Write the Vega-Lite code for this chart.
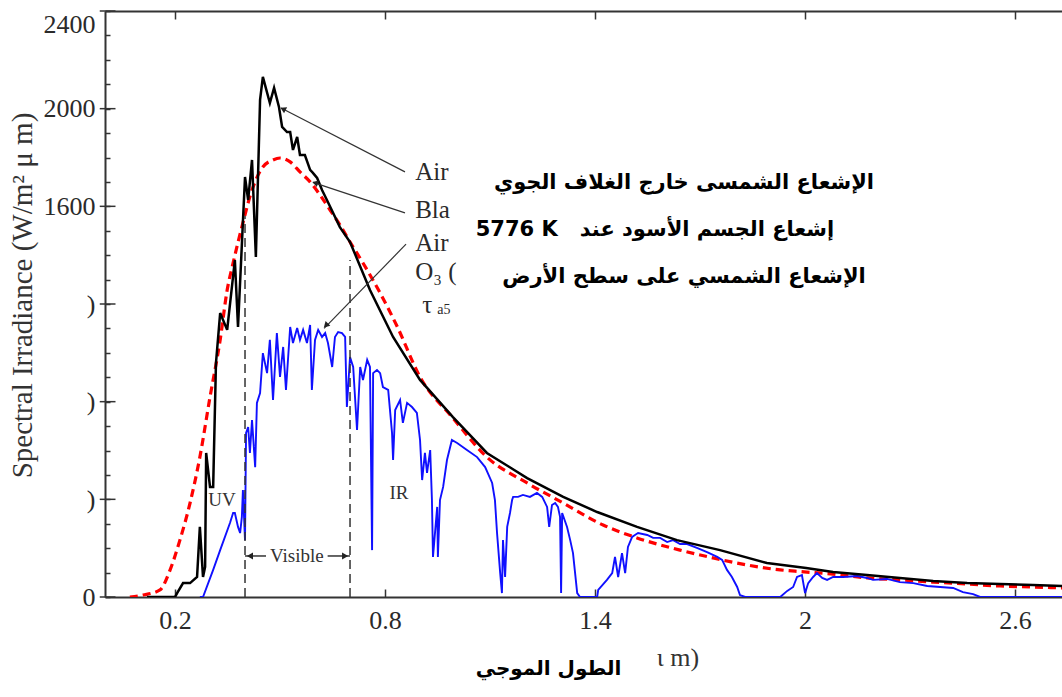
{
  "$schema": "https://vega.github.io/schema/vega-lite/v6.json",
  "width": 957,
  "height": 586,
  "autosize": "none",
  "padding": {"left": 105, "top": 11, "right": 0, "bottom": 100},
  "background": "white",
  "config": {
    "view": {"stroke": null},
    "axis": {
      "domainColor": "#333333", "domainWidth": 2,
      "tickColor": "#333333", "tickWidth": 1.5,
      "labelFont": "Liberation Serif", "labelFontSize": 26, "labelColor": "#2a2a2a",
      "titleFont": "Liberation Serif", "titleColor": "#333333", "titleFontWeight": "normal",
      "grid": false
    }
  },
  "datasets": {
    "bb": [
      {"wl": 0.071, "irr": 0}, {"wl": 0.109, "irr": 8}, {"wl": 0.157, "irr": 29}, {"wl": 0.186, "irr": 111},
      {"wl": 0.214, "irr": 233}, {"wl": 0.243, "irr": 385}, {"wl": 0.271, "irr": 573}, {"wl": 0.3, "irr": 819},
      {"wl": 0.329, "irr": 1053}, {"wl": 0.349, "irr": 1257}, {"wl": 0.366, "irr": 1368}, {"wl": 0.394, "irr": 1532},
      {"wl": 0.42, "irr": 1667}, {"wl": 0.451, "irr": 1761}, {"wl": 0.48, "irr": 1790}, {"wl": 0.5, "irr": 1798},
      {"wl": 0.529, "irr": 1782}, {"wl": 0.557, "irr": 1741}, {"wl": 0.586, "irr": 1700}, {"wl": 0.614, "irr": 1647},
      {"wl": 0.643, "irr": 1585}, {"wl": 0.671, "irr": 1524}, {"wl": 0.7, "irr": 1454}, {"wl": 0.737, "irr": 1368},
      {"wl": 0.786, "irr": 1245}, {"wl": 0.834, "irr": 1110}, {"wl": 0.9, "irr": 901}, {"wl": 0.994, "irr": 733},
      {"wl": 1.091, "irr": 573}, {"wl": 1.206, "irr": 467}, {"wl": 1.309, "irr": 385}, {"wl": 1.423, "irr": 295},
      {"wl": 1.52, "irr": 242}, {"wl": 1.643, "irr": 192}, {"wl": 1.737, "irr": 160}, {"wl": 1.834, "irr": 131},
      {"wl": 1.929, "irr": 111}, {"wl": 1.986, "irr": 104}, {"wl": 2.08, "irr": 94}, {"wl": 2.177, "irr": 78},
      {"wl": 2.271, "irr": 70}, {"wl": 2.366, "irr": 61}, {"wl": 2.463, "irr": 53}, {"wl": 2.557, "irr": 45},
      {"wl": 2.651, "irr": 41}, {"wl": 2.734, "irr": 37}, {"wl": 2.8, "irr": 34}
    ],
    "am0": [
      {"wl": 0.12, "irr": 0}, {"wl": 0.2, "irr": 0}, {"wl": 0.206, "irr": 16}, {"wl": 0.223, "irr": 57},
      {"wl": 0.243, "irr": 57}, {"wl": 0.263, "irr": 82}, {"wl": 0.271, "irr": 287}, {"wl": 0.28, "irr": 82},
      {"wl": 0.286, "irr": 123}, {"wl": 0.289, "irr": 590}, {"wl": 0.3, "irr": 451}, {"wl": 0.309, "irr": 451},
      {"wl": 0.317, "irr": 958}, {"wl": 0.329, "irr": 1163}, {"wl": 0.349, "irr": 1094}, {"wl": 0.371, "irr": 1380},
      {"wl": 0.38, "irr": 1106}, {"wl": 0.4, "irr": 1720}, {"wl": 0.409, "irr": 1626}, {"wl": 0.42, "irr": 1790},
      {"wl": 0.431, "irr": 1393}, {"wl": 0.443, "irr": 2036}, {"wl": 0.451, "irr": 2130}, {"wl": 0.471, "irr": 2023},
      {"wl": 0.483, "irr": 2085}, {"wl": 0.497, "irr": 2007}, {"wl": 0.506, "irr": 1925}, {"wl": 0.52, "irr": 1904},
      {"wl": 0.529, "irr": 1904}, {"wl": 0.537, "irr": 1831}, {"wl": 0.549, "irr": 1884}, {"wl": 0.557, "irr": 1810},
      {"wl": 0.571, "irr": 1810}, {"wl": 0.586, "irr": 1749}, {"wl": 0.594, "irr": 1737}, {"wl": 0.606, "irr": 1716},
      {"wl": 0.62, "irr": 1667}, {"wl": 0.634, "irr": 1626}, {"wl": 0.671, "irr": 1515}, {"wl": 0.7, "irr": 1454},
      {"wl": 0.757, "irr": 1257}, {"wl": 0.823, "irr": 1065}, {"wl": 0.9, "irr": 889}, {"wl": 0.994, "irr": 737},
      {"wl": 1.091, "irr": 590}, {"wl": 1.206, "irr": 487}, {"wl": 1.309, "irr": 410}, {"wl": 1.406, "irr": 348},
      {"wl": 1.52, "irr": 287}, {"wl": 1.634, "irr": 233}, {"wl": 1.757, "irr": 192}, {"wl": 1.891, "irr": 139},
      {"wl": 2.003, "irr": 119}, {"wl": 2.08, "irr": 102}, {"wl": 2.177, "irr": 90}, {"wl": 2.271, "irr": 78},
      {"wl": 2.366, "irr": 66}, {"wl": 2.463, "irr": 57}, {"wl": 2.557, "irr": 53}, {"wl": 2.651, "irr": 49},
      {"wl": 2.734, "irr": 45}, {"wl": 2.8, "irr": 42}
    ],
    "am15": [
      {"wl": 0.271, "irr": 0}, {"wl": 0.28, "irr": 0}, {"wl": 0.309, "irr": 111}, {"wl": 0.329, "irr": 192},
      {"wl": 0.357, "irr": 303}, {"wl": 0.366, "irr": 344}, {"wl": 0.371, "irr": 344}, {"wl": 0.38, "irr": 287},
      {"wl": 0.386, "irr": 262}, {"wl": 0.391, "irr": 328}, {"wl": 0.394, "irr": 438}, {"wl": 0.4, "irr": 233},
      {"wl": 0.403, "irr": 672}, {"wl": 0.409, "irr": 696}, {"wl": 0.414, "irr": 590}, {"wl": 0.42, "irr": 725},
      {"wl": 0.429, "irr": 532}, {"wl": 0.434, "irr": 795}, {"wl": 0.443, "irr": 835}, {"wl": 0.451, "irr": 999},
      {"wl": 0.463, "irr": 917}, {"wl": 0.471, "irr": 1053}, {"wl": 0.48, "irr": 807}, {"wl": 0.491, "irr": 1081},
      {"wl": 0.5, "irr": 901}, {"wl": 0.509, "irr": 1024}, {"wl": 0.517, "irr": 848}, {"wl": 0.529, "irr": 1106},
      {"wl": 0.537, "irr": 1040}, {"wl": 0.549, "irr": 1102}, {"wl": 0.557, "irr": 1053}, {"wl": 0.566, "irr": 1094},
      {"wl": 0.577, "irr": 1040}, {"wl": 0.586, "irr": 1114}, {"wl": 0.591, "irr": 848}, {"wl": 0.6, "irr": 1053},
      {"wl": 0.609, "irr": 1094}, {"wl": 0.62, "irr": 1065}, {"wl": 0.629, "irr": 1081}, {"wl": 0.637, "irr": 1040},
      {"wl": 0.649, "irr": 942}, {"wl": 0.657, "irr": 1065}, {"wl": 0.666, "irr": 1085}, {"wl": 0.677, "irr": 1081},
      {"wl": 0.686, "irr": 1065}, {"wl": 0.691, "irr": 778}, {"wl": 0.7, "irr": 983}, {"wl": 0.709, "irr": 942},
      {"wl": 0.72, "irr": 684}, {"wl": 0.729, "irr": 942}, {"wl": 0.737, "irr": 889}, {"wl": 0.749, "irr": 971},
      {"wl": 0.757, "irr": 942}, {"wl": 0.763, "irr": 192}, {"wl": 0.766, "irr": 917}, {"wl": 0.777, "irr": 930},
      {"wl": 0.786, "irr": 917}, {"wl": 0.794, "irr": 860}, {"wl": 0.809, "irr": 848}, {"wl": 0.82, "irr": 672},
      {"wl": 0.823, "irr": 561}, {"wl": 0.829, "irr": 766}, {"wl": 0.843, "irr": 807}, {"wl": 0.851, "irr": 713},
      {"wl": 0.863, "irr": 795}, {"wl": 0.877, "irr": 778}, {"wl": 0.891, "irr": 754}, {"wl": 0.9, "irr": 643},
      {"wl": 0.906, "irr": 479}, {"wl": 0.914, "irr": 590}, {"wl": 0.92, "irr": 508}, {"wl": 0.929, "irr": 602},
      {"wl": 0.934, "irr": 397}, {"wl": 0.937, "irr": 164}, {"wl": 0.949, "irr": 369}, {"wl": 0.951, "irr": 164},
      {"wl": 0.957, "irr": 397}, {"wl": 0.966, "irr": 451}, {"wl": 0.977, "irr": 561}, {"wl": 0.991, "irr": 643},
      {"wl": 1.006, "irr": 631}, {"wl": 1.034, "irr": 602}, {"wl": 1.063, "irr": 573}, {"wl": 1.086, "irr": 532},
      {"wl": 1.106, "irr": 467}, {"wl": 1.114, "irr": 397}, {"wl": 1.12, "irr": 262}, {"wl": 1.129, "irr": 98},
      {"wl": 1.134, "irr": 16}, {"wl": 1.137, "irr": 233}, {"wl": 1.143, "irr": 82}, {"wl": 1.149, "irr": 287},
      {"wl": 1.157, "irr": 344}, {"wl": 1.163, "irr": 397}, {"wl": 1.166, "irr": 410}, {"wl": 1.18, "irr": 410},
      {"wl": 1.194, "irr": 418}, {"wl": 1.214, "irr": 410}, {"wl": 1.234, "irr": 426}, {"wl": 1.249, "irr": 410},
      {"wl": 1.263, "irr": 369}, {"wl": 1.269, "irr": 287}, {"wl": 1.277, "irr": 377}, {"wl": 1.286, "irr": 385},
      {"wl": 1.294, "irr": 369}, {"wl": 1.3, "irr": 328}, {"wl": 1.303, "irr": 16}, {"wl": 1.306, "irr": 344},
      {"wl": 1.32, "irr": 287}, {"wl": 1.329, "irr": 233}, {"wl": 1.337, "irr": 180}, {"wl": 1.349, "irr": 16},
      {"wl": 1.357, "irr": 0}, {"wl": 1.406, "irr": 0}, {"wl": 1.409, "irr": 29}, {"wl": 1.434, "irr": 70},
      {"wl": 1.449, "irr": 98}, {"wl": 1.457, "irr": 164}, {"wl": 1.466, "irr": 82}, {"wl": 1.477, "irr": 180},
      {"wl": 1.486, "irr": 98}, {"wl": 1.494, "irr": 205}, {"wl": 1.506, "irr": 246}, {"wl": 1.514, "irr": 254},
      {"wl": 1.523, "irr": 262}, {"wl": 1.549, "irr": 254}, {"wl": 1.566, "irr": 242}, {"wl": 1.586, "irr": 242},
      {"wl": 1.606, "irr": 225}, {"wl": 1.623, "irr": 233}, {"wl": 1.643, "irr": 217}, {"wl": 1.663, "irr": 217},
      {"wl": 1.691, "irr": 201}, {"wl": 1.72, "irr": 184}, {"wl": 1.749, "irr": 164}, {"wl": 1.763, "irr": 152},
      {"wl": 1.777, "irr": 111}, {"wl": 1.791, "irr": 82}, {"wl": 1.806, "irr": 41}, {"wl": 1.814, "irr": 8},
      {"wl": 1.829, "irr": 0}, {"wl": 1.929, "irr": 0}, {"wl": 1.949, "irr": 25}, {"wl": 1.966, "irr": 41},
      {"wl": 1.977, "irr": 82}, {"wl": 1.991, "irr": 90}, {"wl": 2.0, "irr": 16}, {"wl": 2.009, "irr": 57},
      {"wl": 2.023, "irr": 82}, {"wl": 2.034, "irr": 98}, {"wl": 2.049, "irr": 78}, {"wl": 2.063, "irr": 70},
      {"wl": 2.08, "irr": 82}, {"wl": 2.109, "irr": 82}, {"wl": 2.149, "irr": 86}, {"wl": 2.177, "irr": 78},
      {"wl": 2.194, "irr": 70}, {"wl": 2.234, "irr": 74}, {"wl": 2.271, "irr": 61}, {"wl": 2.309, "irr": 57},
      {"wl": 2.349, "irr": 45}, {"wl": 2.386, "irr": 41}, {"wl": 2.423, "irr": 37}, {"wl": 2.451, "irr": 20},
      {"wl": 2.48, "irr": 12}, {"wl": 2.5, "irr": 0}, {"wl": 2.8, "irr": 0}
    ],
    "bands": [{"wl": 0.4, "bottom": 0, "top": 1560}, {"wl": 0.7, "bottom": 0, "top": 1380}],
    "majorTicks": [{"v": 0}, {"v": 400}, {"v": 800}, {"v": 1200}, {"v": 1600}, {"v": 2000}, {"v": 2400}],
    "leaders": [
      {"x1": 0.857, "y1": 1741, "x2": 0.503, "y2": 2003},
      {"x1": 0.857, "y1": 1573, "x2": 0.594, "y2": 1698},
      {"x1": 0.86, "y1": 1445, "x2": 0.626, "y2": 1100}
    ],
    "serifLabels": [
      {"label": "Air", "wl": 0.886, "irr": 1741},
      {"label": "Bla", "wl": 0.886, "irr": 1585},
      {"label": "Air", "wl": 0.886, "irr": 1450},
      {"label": "O₃ (", "wl": 0.886, "irr": 1331},
      {"label": "τ", "wl": 0.906, "irr": 1196}
    ],
    "arabic": [
      {"label": "الإشعاع الشمسى خارج الغلاف الجوي", "wl": 1.654, "irr": 1696},
      {"label": "5776 K \u00a0\u00a0إشعاع الجسم الأسود عند", "wl": 1.571, "irr": 1503},
      {"label": "الإشعاع الشمسي على سطح الأرض", "wl": 1.654, "irr": 1310}
    ]
  },
  "resolve": {"axis": {"x": "independent", "y": "independent"}},
  "layer": [
    {
      "data": {"name": "bb"},
      "mark": {"type": "line", "color": "#ff0000", "strokeWidth": 3.2, "strokeDash": [8, 5], "clip": true, "interpolate": "monotone"},
      "encoding": {
        "x": {"field": "wl", "type": "quantitative",
          "scale": {"domain": [0, 2.734], "nice": false, "zero": false},
          "axis": {"orient": "bottom", "values": [0.2, 0.8, 1.4, 2, 2.6], "format": "~g", "tickSize": -8, "labelPadding": 18,
            "title": "الطول الموجي", "titleFont": "DejaVu Sans", "titleFontWeight": "bold", "titleFontSize": 20, "titleColor": "#000000",
            "titleX": 443, "titleY": 71, "titleBaseline": "middle"}},
        "y": {"field": "irr", "type": "quantitative",
          "scale": {"domain": [0, 2400], "nice": false},
          "axis": {"orient": "left",
            "values": [0, 100, 200, 300, 400, 500, 600, 700, 800, 900, 1000, 1100, 1200, 1300, 1400, 1500, 1600, 1700, 1800, 1900, 2000, 2100, 2200, 2300, 2400],
            "tickSize": -5,
            "labelExpr": "datum.value % 400 != 0 ? '' : ((datum.value == 0 || datum.value >= 1600) ? datum.label : ')')",
            "format": "d", "labelPadding": 15,
            "labelBaseline": {"condition": {"test": "datum.value >= 2400", "value": "top"}, "value": "middle"},
            "title": "Spectral Irradiance (W/m² μ m)", "titleFontSize": 29, "titleX": -68, "titleY": 284}}
      }
    },
    {
      "data": {"name": "am15"},
      "mark": {"type": "line", "color": "#1010ff", "strokeWidth": 1.9, "clip": true},
      "encoding": {
        "x": {"field": "wl", "type": "quantitative",
          "axis": {"orient": "top", "values": [0.2, 0.8, 1.4, 2, 2.6], "labels": false, "tickSize": -8, "title": null}},
        "y": {"field": "irr", "type": "quantitative", "axis": null}
      }
    },
    {
      "data": {"name": "am0"},
      "mark": {"type": "line", "color": "#000000", "strokeWidth": 2.5, "clip": true},
      "encoding": {
        "x": {"field": "wl", "type": "quantitative", "axis": null},
        "y": {"field": "irr", "type": "quantitative", "axis": null}
      }
    },
    {
      "data": {"name": "majorTicks"},
      "mark": {"type": "rule", "color": "#333333", "strokeWidth": 1.5},
      "encoding": {
        "x": {"datum": -0.015, "type": "quantitative", "axis": null},
        "x2": {"datum": 0.03},
        "y": {"field": "v", "type": "quantitative", "axis": null}
      }
    },
    {
      "data": {"name": "bands"},
      "mark": {"type": "rule", "color": "#333333", "strokeWidth": 1.5, "strokeDash": [9, 5]},
      "encoding": {
        "x": {"field": "wl", "type": "quantitative", "axis": null},
        "y": {"field": "bottom", "type": "quantitative", "axis": null},
        "y2": {"field": "top"}
      }
    },
    {
      "data": {"name": "leaders"},
      "mark": {"type": "rule", "color": "#333333", "strokeWidth": 1.2},
      "encoding": {
        "x": {"field": "x1", "type": "quantitative", "axis": null},
        "y": {"field": "y1", "type": "quantitative", "axis": null},
        "x2": {"field": "x2"},
        "y2": {"field": "y2"}
      }
    },
    {
      "data": {"values": [{"wl": 0.511, "irr": 1997}]},
      "mark": {"type": "point", "shape": "triangle", "filled": true, "color": "#222222", "size": 45, "angle": 297, "opacity": 1},
      "encoding": {"x": {"field": "wl", "type": "quantitative", "axis": null}, "y": {"field": "irr", "type": "quantitative", "axis": null}}
    },
    {
      "data": {"values": [{"wl": 0.603, "irr": 1695}]},
      "mark": {"type": "point", "shape": "triangle", "filled": true, "color": "#222222", "size": 45, "angle": 289, "opacity": 1},
      "encoding": {"x": {"field": "wl", "type": "quantitative", "axis": null}, "y": {"field": "irr", "type": "quantitative", "axis": null}}
    },
    {
      "data": {"values": [{"wl": 0.633, "irr": 1115}]},
      "mark": {"type": "point", "shape": "triangle", "filled": true, "color": "#222222", "size": 45, "angle": 225, "opacity": 1},
      "encoding": {"x": {"field": "wl", "type": "quantitative", "axis": null}, "y": {"field": "irr", "type": "quantitative", "axis": null}}
    },
    {
      "data": {"values": [{"a": 0.4, "b": 0.46, "irr": 168}, {"a": 0.636, "b": 0.7, "irr": 168}]},
      "mark": {"type": "rule", "color": "#333333", "strokeWidth": 1.5},
      "encoding": {
        "x": {"field": "a", "type": "quantitative", "axis": null},
        "x2": {"field": "b"},
        "y": {"field": "irr", "type": "quantitative", "axis": null}
      }
    },
    {
      "data": {"values": [{"wl": 0.414, "irr": 168}]},
      "mark": {"type": "point", "shape": "triangle-left", "filled": true, "color": "#222222", "size": 50, "opacity": 1},
      "encoding": {"x": {"field": "wl", "type": "quantitative", "axis": null}, "y": {"field": "irr", "type": "quantitative", "axis": null}}
    },
    {
      "data": {"values": [{"wl": 0.686, "irr": 168}]},
      "mark": {"type": "point", "shape": "triangle-right", "filled": true, "color": "#222222", "size": 50, "opacity": 1},
      "encoding": {"x": {"field": "wl", "type": "quantitative", "axis": null}, "y": {"field": "irr", "type": "quantitative", "axis": null}}
    },
    {
      "data": {"values": [
        {"label": "UV", "wl": 0.334, "irr": 397},
        {"label": "IR", "wl": 0.84, "irr": 426},
        {"label": "Visible", "wl": 0.548, "irr": 168}
      ]},
      "mark": {"type": "text", "font": "Liberation Serif", "fontSize": 19, "color": "#333333", "align": "center", "baseline": "middle"},
      "encoding": {
        "x": {"field": "wl", "type": "quantitative", "axis": null},
        "y": {"field": "irr", "type": "quantitative", "axis": null},
        "text": {"field": "label"}
      }
    },
    {
      "data": {"name": "serifLabels"},
      "mark": {"type": "text", "font": "Liberation Serif", "fontSize": 25, "color": "#2a2a2a", "align": "left", "baseline": "middle"},
      "encoding": {
        "x": {"field": "wl", "type": "quantitative", "axis": null},
        "y": {"field": "irr", "type": "quantitative", "axis": null},
        "text": {"field": "label"}
      }
    },
    {
      "data": {"values": [{"label": "a5", "wl": 0.949, "irr": 1175}]},
      "mark": {"type": "text", "font": "Liberation Serif", "fontSize": 14, "color": "#2a2a2a", "align": "left", "baseline": "middle"},
      "encoding": {
        "x": {"field": "wl", "type": "quantitative", "axis": null},
        "y": {"field": "irr", "type": "quantitative", "axis": null},
        "text": {"field": "label"}
      }
    },
    {
      "data": {"name": "arabic"},
      "mark": {"type": "text", "font": "DejaVu Sans", "fontWeight": "bold", "fontSize": 21, "color": "#000000", "align": "center", "baseline": "middle"},
      "encoding": {
        "x": {"field": "wl", "type": "quantitative", "axis": null},
        "y": {"field": "irr", "type": "quantitative", "axis": null},
        "text": {"field": "label"}
      }
    },
    {
      "data": {"values": [{"label": "ι m)", "wl": 1.637, "irr": -250}]},
      "mark": {"type": "text", "font": "Liberation Serif", "fontSize": 26, "color": "#333333", "align": "center", "baseline": "middle"},
      "encoding": {
        "x": {"field": "wl", "type": "quantitative", "axis": null},
        "y": {"field": "irr", "type": "quantitative", "axis": null},
        "text": {"field": "label"}
      }
    }
  ]
}
